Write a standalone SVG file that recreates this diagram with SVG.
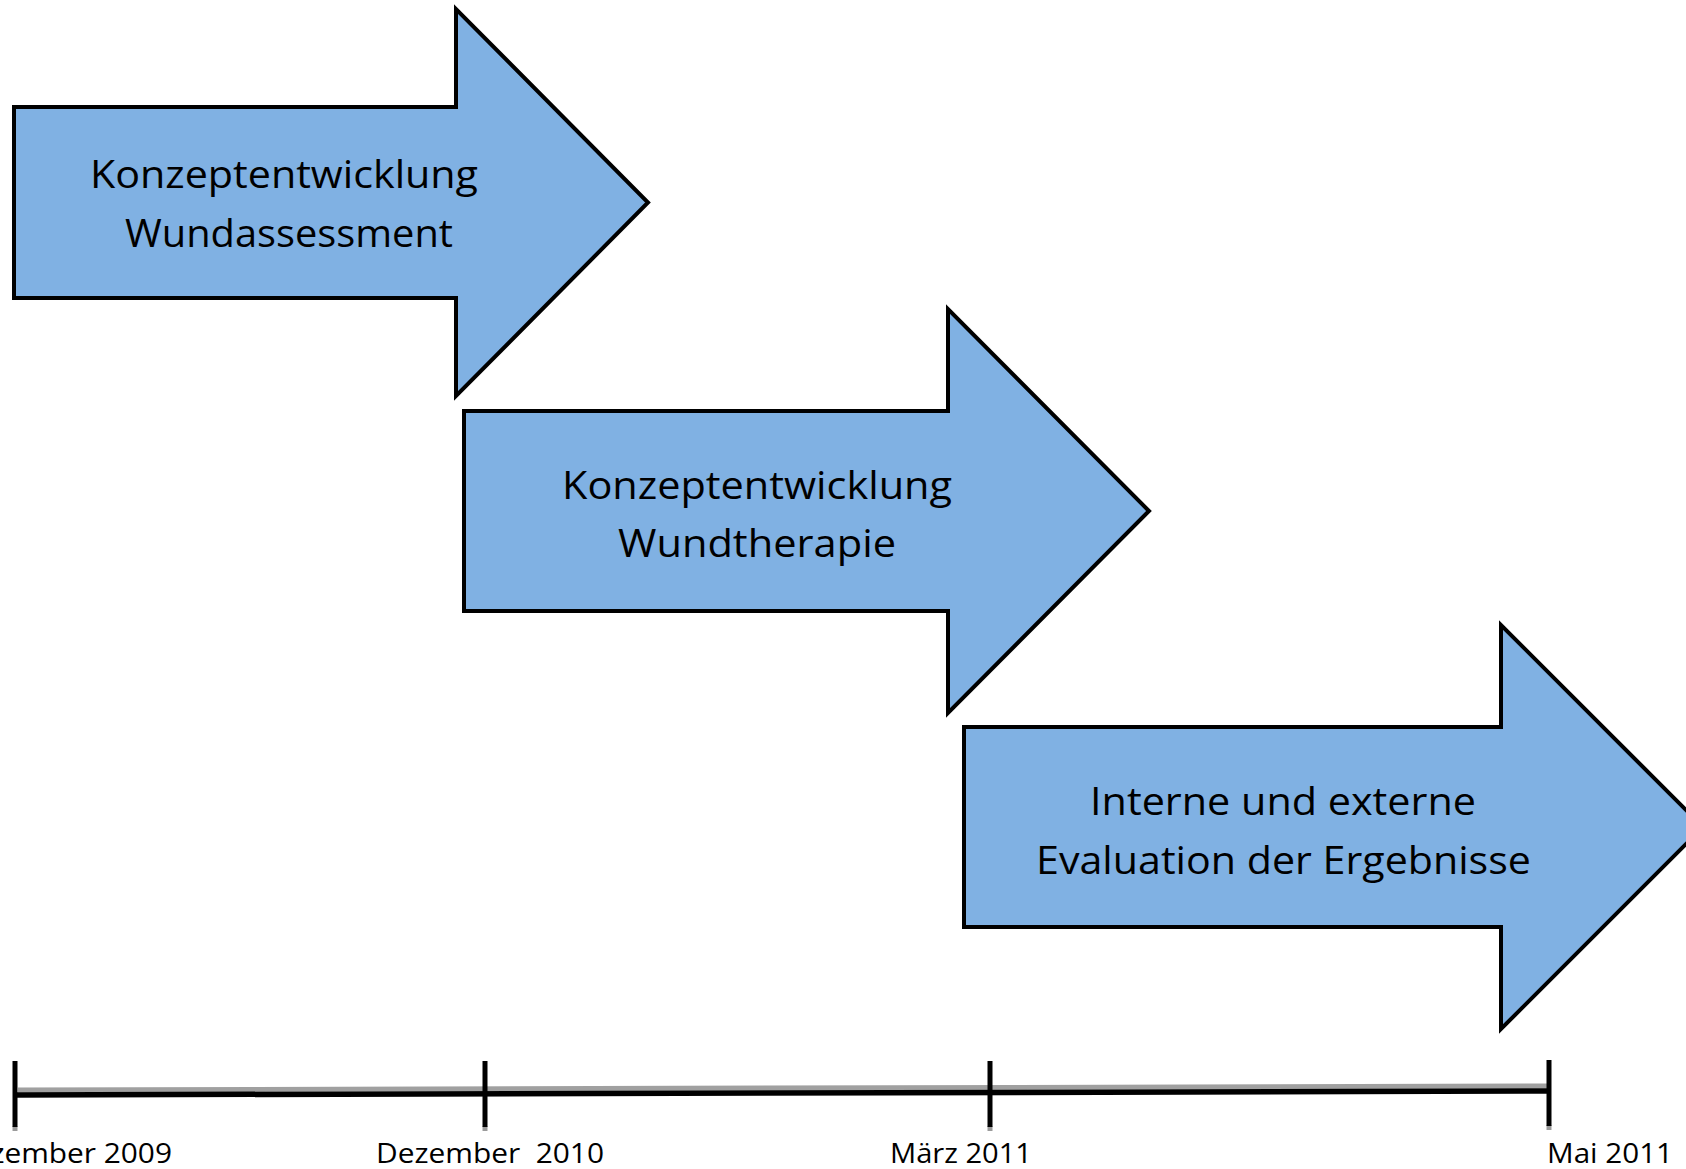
<svg xmlns="http://www.w3.org/2000/svg" width="1686" height="1169" viewBox="0 0 1686 1169">
  <style>
    .arrow { fill: #80B1E3; stroke: #000000; stroke-width: 4; stroke-linejoin: miter; }
    .lbl { font-family: "Open Sans", "Liberation Sans", sans-serif; font-size: 39px; fill: #000000; }
    .date { font-family: "Open Sans", "Liberation Sans", sans-serif; font-size: 27px; fill: #000000; white-space: pre; }
    .tick { stroke: #000000; stroke-width: 5; }
    .tickshadow { stroke: #9a9a9a; stroke-width: 5; }
  </style>
  <rect x="0" y="0" width="1686" height="1169" fill="#ffffff"/>

  <g id="phase1">
    <path class="arrow" d="M14,107 H456 V9 L648,202.5 L456,396 V298 H14 Z"/>
    <text class="lbl" x="90" y="188" textLength="388" lengthAdjust="spacingAndGlyphs">Konzeptentwicklung</text>
    <text class="lbl" x="125" y="247" textLength="328" lengthAdjust="spacingAndGlyphs">Wundassessment</text>
  </g>

  <g id="phase2">
    <path class="arrow" d="M464,411 H948 V309 L1149,511 L948,713 V611 H464 Z"/>
    <text class="lbl" x="562" y="499" textLength="390" lengthAdjust="spacingAndGlyphs">Konzeptentwicklung</text>
    <text class="lbl" x="618" y="557" textLength="278" lengthAdjust="spacingAndGlyphs">Wundtherapie</text>
  </g>

  <g id="phase3">
    <path class="arrow" d="M964,727 H1501 V625 L1703,827 L1501,1029 V927 H964 Z"/>
    <text class="lbl" x="1090" y="815" textLength="386" lengthAdjust="spacingAndGlyphs">Interne und externe</text>
    <text class="lbl" x="1036" y="874" textLength="495" lengthAdjust="spacingAndGlyphs">Evaluation der Ergebnisse</text>
  </g>

  <g id="timeline">
    <line x1="18" y1="1090" x2="1549" y2="1086" stroke="#a0a0a0" stroke-width="5"/>
    <line x1="15" y1="1095" x2="1549" y2="1091" stroke="#000000" stroke-width="5.5"/>
    <line class="tickshadow" x1="15" y1="1126" x2="15" y2="1131"/>
    <line class="tickshadow" x1="485" y1="1126" x2="485" y2="1131"/>
    <line class="tickshadow" x1="990" y1="1126" x2="990" y2="1131"/>
    <line class="tickshadow" x1="1549" y1="1125" x2="1549" y2="1130"/>
    <line class="tick" x1="15" y1="1061" x2="15" y2="1127"/>
    <line class="tick" x1="485" y1="1061" x2="485" y2="1127"/>
    <line class="tick" x1="990" y1="1061" x2="990" y2="1127"/>
    <line class="tick" x1="1549" y1="1060" x2="1549" y2="1126"/>
  </g>

  <g id="dates">
    <text class="date" x="-48" y="1163" textLength="220" lengthAdjust="spacingAndGlyphs">Dezember 2009</text>
    <text class="date" x="376" y="1163" textLength="228" lengthAdjust="spacingAndGlyphs" xml:space="preserve">Dezember  2010</text>
    <text class="date" x="890" y="1163" textLength="142" lengthAdjust="spacingAndGlyphs">März 2011</text>
    <text class="date" x="1547" y="1163" textLength="126" lengthAdjust="spacingAndGlyphs">Mai 2011</text>
  </g>
</svg>
